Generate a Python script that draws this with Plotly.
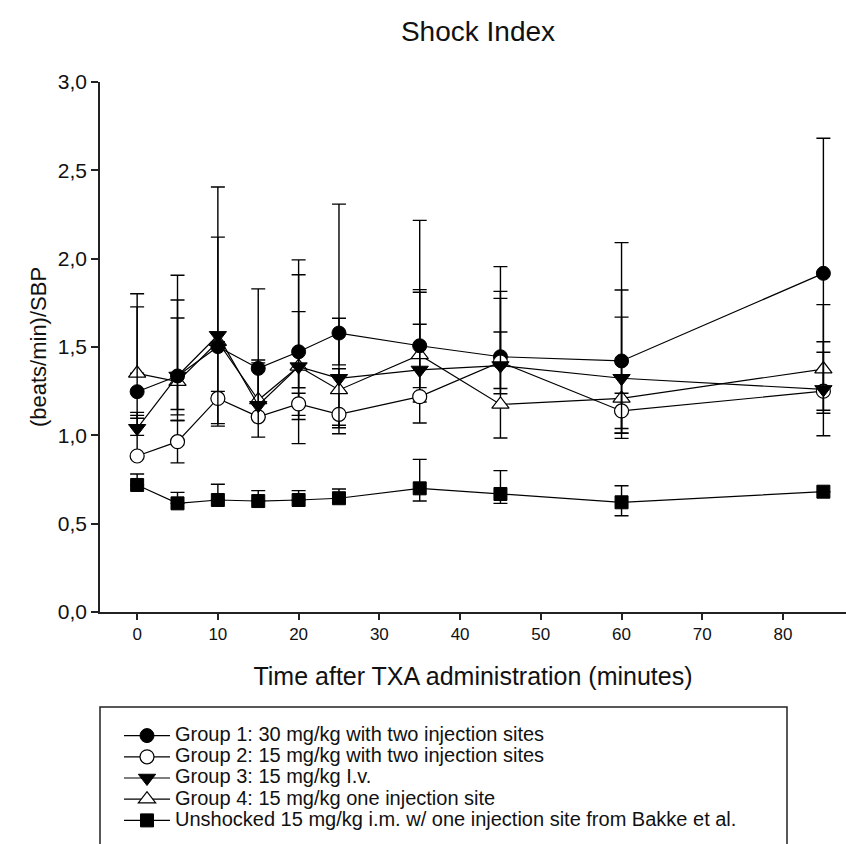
import plotly.graph_objects as go

# ---- data ----
times = [0, 5, 10, 15, 20, 25, 35, 45, 60, 85]

names = [
    "Group 1: 30 mg/kg with two injection sites",
    "Group 2: 15 mg/kg with two injection sites",
    "Group 3: 15 mg/kg I.v.",
    "Group 4: 15 mg/kg one injection site",
    "Unshocked 15 mg/kg i.m. w/ one injection site from Bakke et al.",
]

g1_mean = [1.247, 1.336, 1.502, 1.379, 1.473, 1.579, 1.507, 1.445, 1.421, 1.917]
g1_up   = [0.48, 0.57, 0.62, 0.45, 0.52, 0.73, 0.71, 0.51, 0.67, 0.765]
g1_dn   = [0.15, 0.19, 0.45, 0.28, 0.36, 0.18, 0.0, 0.18, 0.41, 0.775]

g2_mean = [0.883, 0.964, 1.209, 1.105, 1.178, 1.119, 1.219, 1.415, 1.138, 1.25]
g2_up   = [0.23, 0.12, 0.04, 0.0, 0.06, 0.0, 0.41, 0.40, 0.10, 0.22]
g2_dn   = [0.0, 0.12, 0.0, 0.0, 0.225, 0.11, 0.03, 0.18, 0.155, 0.0]

g3_mean = [1.040, 1.336, 1.566, 1.17, 1.389, 1.323, 1.370, 1.395, 1.323, 1.26]
g3_up   = [0.09, 0.43, 0.84, 0.256, 0.52, 0.34, 0.44, 0.38, 0.50, 0.27]
g3_dn   = [0.04, 0.22, 0.50, 0.18, 0.12, 0.28, 0.10, 0.0, 0.31, 0.135]

g4_mean = [1.351, 1.304, 1.53, 1.200, 1.39, 1.257, 1.455, 1.175, 1.209, 1.375]
g4_up   = [0.45, 0.36, 0.0, 0.21, 0.31, 0.12, 0.37, 0.41, 0.46, 0.365]
g4_dn   = [0.0, 0.22, 0.0, 0.10, 0.30, 0.20, 0.385, 0.19, 0.17, 0.377]

us_mean = [0.719, 0.615, 0.634, 0.628, 0.634, 0.644, 0.700, 0.668, 0.621, 0.681]
us_up   = [0.062, 0.062, 0.089, 0.059, 0.053, 0.052, 0.164, 0.132, 0.094, 0.0]
us_dn   = [0.0, 0.0, 0.0, 0.0, 0.0, 0.0, 0.072, 0.053, 0.076, 0.0]

x_ticks = [0, 10, 20, 30, 40, 50, 60, 70, 80]
y_ticks = [0.0, 0.5, 1.0, 1.5, 2.0, 2.5, 3.0]
y_ticktext = ["0,0", "0,5", "1,0", "1,5", "2,0", "2,5", "3,0"]

title_text = "Shock Index"
x_title = "Time after TXA administration (minutes)"
y_title = "(beats/min)/SBP"

# ---- styling ----
FONT = "Liberation Sans, Arial, sans-serif"
LEG_TEXT_PX = 20

markers = [
    dict(symbol="circle", size=14, color="black", line=dict(color="black", width=1)),
    dict(symbol="circle", size=14, color="white", line=dict(color="black", width=1.2)),
    dict(symbol="triangle-down", size=15, color="black", line=dict(color="black", width=1)),
    dict(symbol="triangle-up", size=15, color="white", line=dict(color="black", width=1.2)),
    dict(symbol="square", size=13, color="black", line=dict(color="black", width=1)),
]
data = [
    (g1_mean, g1_up, g1_dn),
    (g2_mean, g2_up, g2_dn),
    (g3_mean, g3_up, g3_dn),
    (g4_mean, g4_up, g4_dn),
    (us_mean, us_up, us_dn),
]
# drawing order (bottom to top); legend order kept via legendrank
draw_order = [3, 0, 1, 2, 4]

fig = go.Figure()
for i in draw_order:
    mean, up, dn = data[i]
    fig.add_trace(go.Scatter(
        x=times, y=mean,
        name='<span style="font-size:%dpx">%s</span>' % (LEG_TEXT_PX, names[i]),
        legendrank=i + 1,
        mode="lines+markers",
        line=dict(color="black", width=1.2),
        marker=markers[i],
        error_y=dict(type="data", symmetric=False, array=up, arrayminus=dn,
                     color="black", thickness=1.4, width=7),
    ))

L, R, T, B = 100, 0, 82, 232
W, H = 846, 844
pw = W - L - R
ph = H - T - B

def px_x(px):
    return (px - L) / pw

def px_y(py):
    return (H - B - py) / ph

fig.update_layout(
    width=W, height=H,
    margin=dict(l=L, r=R, t=T, b=B, autoexpand=False),
    paper_bgcolor="white", plot_bgcolor="white",
    font=dict(family=FONT, color="black"),
    title=dict(text=title_text, x=px_x(478), xref="paper", xanchor="center",
               y=1 - 31 / H, yref="container", yanchor="middle",
               font=dict(size=28, family=FONT, color="#111")),
    showlegend=True,
    legend=dict(x=px_x(119), xanchor="left", y=px_y(720), yanchor="top",
                bgcolor="rgba(0,0,0,0)", borderwidth=0,
                font=dict(size=14, family=FONT, color="#111"),
                tracegroupgap=0, itemwidth=46, traceorder="normal"),
    xaxis=dict(range=[-4.6, 87.8], tickvals=x_ticks, ticks="outside",
               ticklen=6, tickwidth=1.5, tickcolor="#222",
               showline=True, linecolor="#222", linewidth=1.5,
               showgrid=False, zeroline=False,
               tickfont=dict(size=17, family=FONT, color="#111"),
               title=dict(text=x_title, standoff=24,
                          font=dict(size=25, family=FONT, color="#111"))),
    yaxis=dict(range=[0, 3], tickvals=y_ticks, ticktext=y_ticktext,
               ticks="outside", ticklen=7, tickwidth=1.5, tickcolor="#222",
               showline=True, linecolor="#222", linewidth=1.5,
               showgrid=False, zeroline=False,
               tickfont=dict(size=21, family=FONT, color="#111"),
               title=dict(text=y_title, standoff=5,
                          font=dict(size=22, family=FONT, color="#111"))),
    shapes=[dict(type="rect", xref="paper", yref="paper",
                 x0=px_x(100), x1=px_x(787), y0=px_y(707), y1=px_y(850),
                 line=dict(color="#222", width=1.5), fillcolor="rgba(0,0,0,0)",
                 layer="above")],
)

fig.write_html("out.html")
